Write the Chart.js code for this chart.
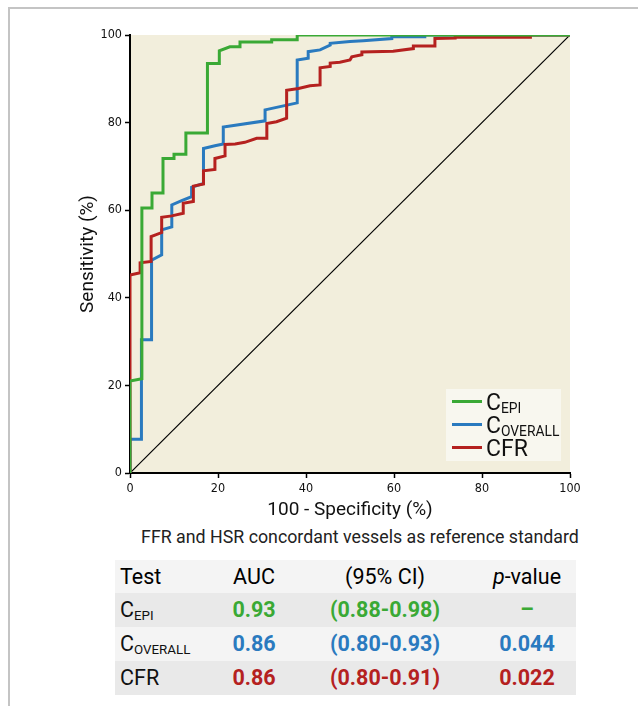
<!DOCTYPE html>
<html>
<head>
<meta charset="utf-8">
<script src="https://cdn.jsdelivr.net/npm/chart.js@4"></script>
<style>
  body { margin: 0; background: #fff; font-family: Roboto, sans-serif; }
  .frame { position: absolute; left: 8px; top: 7px; width: 640px; height: 710px;
           border-left: 2px solid #c4c4c4; border-top: 2px solid #c4c4c4; }
  #wrap { position: absolute; left: 40px; top: 20px; width: 545px; height: 505px; }
  .legend { position: absolute; left: 446px; top: 389px; width: 115px; height: 72px;
            background: #f8f7ef; font-size: 23px; color: #111; }
  .legend div { position: absolute; left: 6px; height: 24px; line-height: 24px; white-space: nowrap; }
  .legend span.ln { display: inline-block; width: 30px; height: 3px; vertical-align: middle;
                    margin-right: 4px; position: relative; top: -2px; }
  .legend sub { font-size: 0.6em; }
  sub { font-size: 0.62em; vertical-align: -0.25em; }
  .caption { position: absolute; left: 70px; width: 580px; top: 526px; text-align: center;
             font-size: 17.8px; color: #222; }
  .row { position: absolute; left: 115px; width: 461px; height: 34px; font-size: 21.5px; }
  .row span { position: absolute; top: 4px; transform: translateX(-50%); white-space: nowrap; }
  .row span.first { transform: none; left: 5px; }
  .b { font-weight: bold; }
</style>
</head>
<body>
<div class="frame"></div>
<div id="wrap"><canvas id="roc"></canvas></div>

<div class="legend">
  <div style="top:2px"><span class="ln" style="background:#3aa935"></span>C<sub>EPI</sub></div>
  <div style="top:25px"><span class="ln" style="background:#2a7abf"></span>C<sub>OVERALL</sub></div>
  <div style="top:48px"><span class="ln" style="background:#b5211f"></span>CFR</div>
</div>

<div class="caption">FFR and HSR concordant vessels as reference standard</div>

<div class="row" style="top:560px;background:#f4f4f4;height:33px">
  <span class="first">Test</span><span style="left:139px">AUC</span>
  <span style="left:270px">(95% CI)</span><span style="left:412px"><i>p</i>-value</span>
</div>
<div class="row" style="top:593px;background:#e9e9e9;color:#3aa935">
  <span class="first" style="color:#111">C<sub>EPI</sub></span><span class="b" style="left:139px">0.93</span>
  <span class="b" style="left:270px">(0.88-0.98)</span><span class="b" style="left:412px">–</span>
</div>
<div class="row" style="top:627px;background:#f4f4f4;color:#2a7abf">
  <span class="first" style="color:#111">C<sub>OVERALL</sub></span><span class="b" style="left:139px">0.86</span>
  <span class="b" style="left:270px">(0.80-0.93)</span><span class="b" style="left:412px">0.044</span>
</div>
<div class="row" style="top:661px;background:#e9e9e9;color:#b5211f">
  <span class="first" style="color:#111">CFR</span><span class="b" style="left:139px">0.86</span>
  <span class="b" style="left:270px">(0.80-0.91)</span><span class="b" style="left:412px">0.022</span>
</div>

<script>
// ROC curves: x = 100 - specificity, y = sensitivity
const epiX = [0, 0, 2.7, 2.7, 5, 5, 7.5, 7.5, 10, 10, 12.7, 12.7, 17.6, 17.6, 20.3, 20.3, 22.7, 25, 25, 32.2, 32.2, 38, 38, 100];
const epiY = [0, 21, 21.5, 60.5, 60.5, 63.9, 63.9, 71.8, 71.8, 72.8, 72.8, 77.6, 77.6, 93.5, 93.5, 96.4, 97.3, 97.3, 98.4, 98.4, 98.9, 98.9, 100, 100];

const overallX = [0, 0, 2.6, 2.6, 4.9, 4.9, 7.2, 7.2, 9.5, 9.5, 11.75, 14, 14, 16.7, 16.7, 19.3, 21.2, 21.2, 30.7, 30.7, 38, 38, 40.5, 40.5, 43.2, 45.5, 45.5, 50, 53, 59.5, 59.5, 67, 67, 100];
const overallY = [0, 7.7, 7.7, 30.4, 30.4, 48.6, 49.8, 55.5, 56.2, 61.2, 62.2, 63.1, 65.2, 66.1, 74.1, 74.7, 75.1, 79.0, 80.4, 82.9, 84.5, 94.3, 94.7, 96.2, 96.6, 97.7, 98.1, 98.5, 98.7, 99.2, 99.6, 99.6, 100, 100];

const cfrX = [0, 0, 2.3, 2.3, 4.8, 4.8, 7.2, 7.2, 9.5, 12.1, 12.1, 14.4, 14.4, 16.7, 16.7, 19.3, 19.3, 21.6, 21.6, 23.9, 26.1, 28.8, 31.1, 31.1, 33.3, 35.6, 35.6, 38.3, 40.9, 43.2, 43.2, 45.5, 45.5, 47.7, 50, 50.4, 52.7, 52.7, 59.8, 64.4, 64.4, 69.3, 69.3, 73.9, 73.9, 91, 91, 100];
const cfrY = [0, 45.2, 45.7, 48.0, 48.3, 54.0, 54.9, 58.4, 58.7, 59.3, 61.6, 62.0, 65.5, 66.0, 69.0, 69.3, 71.8, 72.4, 75.0, 75.1, 75.5, 76.4, 76.4, 79.8, 80.2, 81.0, 87.4, 87.8, 88.4, 88.6, 92.5, 92.8, 93.6, 93.8, 94.3, 95.0, 95.5, 96.1, 96.3, 96.9, 97.5, 97.5, 99.2, 99.3, 99.5, 99.5, 100, 100];

const refX = [0, 100];
const refY = [0, 100];

const axisTicks = [0, 20, 40, 60, 80, 100];

const pts = (xs, ys) => xs.map((x, i) => ({ x, y: ys[i] }));

const plotBg = {
  id: 'plotBg',
  beforeDraw(chart) {
    const { ctx, chartArea: a } = chart;
    ctx.save();
    ctx.fillStyle = '#f2eedc';
    ctx.fillRect(a.left, a.top, a.right - a.left, a.bottom - a.top);
    ctx.restore();
  }
};

const line = (data, color, width) => ({
  data, borderColor: color, borderWidth: width, showLine: true,
  pointRadius: 0, fill: false, tension: 0
});

const tickFont = { family: 'DejaVu Sans Condensed', size: 12.5 };
const titleFont = { family: 'Roboto', size: 19 };

new Chart(document.getElementById('roc'), {
  type: 'scatter',
  data: {
    datasets: [
      line(pts(epiX, epiY), '#3aa935', 3),
      line(pts(cfrX, cfrY), '#b5211f', 3),
      line(pts(overallX, overallY), '#2a7abf', 3),
      line(pts(refX, refY), '#000', 1.2)
    ]
  },
  options: {
    responsive: true,
    maintainAspectRatio: false,
    animation: false,
    layout: { padding: { top: 15, right: 15, left: 0, bottom: 0 } },
    plugins: { legend: { display: false }, tooltip: { enabled: false } },
    scales: {
      x: {
        type: 'linear', min: 0, max: 100,
        afterBuildTicks: s => { s.ticks = axisTicks.map(v => ({ value: v })); },
        afterFit: s => { s.height = 52; },
        grid: { drawOnChartArea: false, drawTicks: true, tickLength: 5, tickColor: '#000', tickWidth: 1.5 },
        border: { display: true, color: '#000', width: 2 },
        ticks: { color: '#111', font: tickFont, padding: 3, maxRotation: 0 },
        title: { display: true, text: '100 - Specificity (%)', color: '#111', font: titleFont, padding: { top: 0, bottom: 3 } }
      },
      y: {
        type: 'linear', min: 0, max: 100,
        afterBuildTicks: s => { s.ticks = axisTicks.map(v => ({ value: v })); },
        afterFit: s => { s.width = 90; },
        grid: { drawOnChartArea: false, drawTicks: true, tickLength: 5, tickColor: '#000', tickWidth: 1.5 },
        border: { display: true, color: '#000', width: 2 },
        ticks: { color: '#111', font: tickFont, padding: 3 },
        title: { display: true, text: 'Sensitivity (%)', color: '#111', font: titleFont, padding: { top: 37, bottom: 0 } }
      }
    }
  },
  plugins: [plotBg]
});
</script>
</body>
</html>
